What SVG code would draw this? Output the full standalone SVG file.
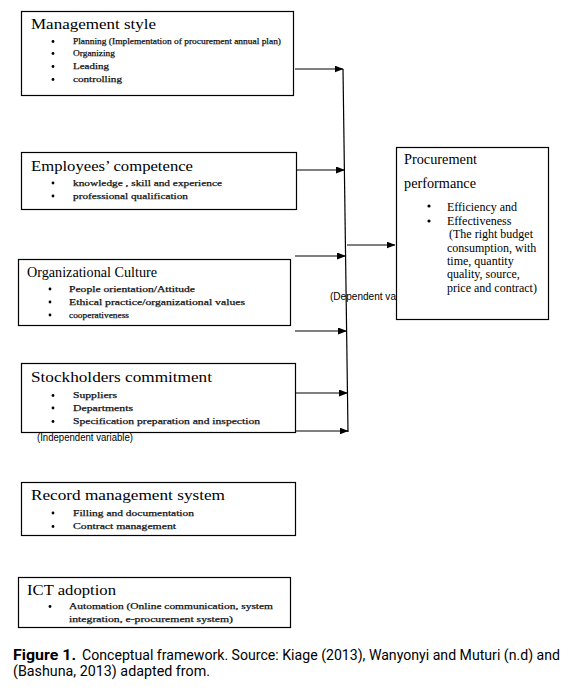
<svg xmlns="http://www.w3.org/2000/svg" width="576" height="694" viewBox="0 0 576 694">
<style>
.box{fill:#fff;stroke:#000;stroke-width:1.2}
.ttl{font-family:"Liberation Serif",serif;font-size:15px;fill:#000}
.itm{font-family:"Liberation Serif",serif;font-size:9px;fill:#111;stroke:#111;stroke-width:0.25}
.pp{font-family:"Liberation Serif",serif;font-size:12px;fill:#000}
.pt{font-family:"Liberation Serif",serif;font-size:14px;fill:#000}
.lbl{font-family:"Liberation Sans",Arial,sans-serif;font-size:10px;fill:#000}
.cap{font-family:"Roboto","Liberation Sans",sans-serif;font-size:14px;fill:#000}
.dot{fill:#000}
.con{stroke:#000;stroke-width:1.2;fill:none}
</style>
<defs>
<marker id="ah" markerWidth="9" markerHeight="7" refX="8.5" refY="3.5" orient="auto" markerUnits="userSpaceOnUse">
<path d="M0,0 L9,3.5 L0,7 Z" fill="#000"/>
</marker>
</defs>
<text class="lbl" x="330" y="300" textLength="66" lengthAdjust="spacingAndGlyphs">(Dependent va</text>
<g id="connectors">
<line class="con" x1="343" y1="69" x2="348" y2="432"/>
<line class="con" x1="295" y1="69" x2="343" y2="69" marker-end="url(#ah)"/>
<line class="con" x1="296" y1="170" x2="344.5" y2="170" marker-end="url(#ah)"/>
<line class="con" x1="295" y1="256" x2="345.5" y2="256" marker-end="url(#ah)"/>
<line class="con" x1="295" y1="331" x2="346.5" y2="331" marker-end="url(#ah)"/>
<line class="con" x1="296" y1="393" x2="347.5" y2="393" marker-end="url(#ah)"/>
<line class="con" x1="296" y1="431" x2="348" y2="431" marker-end="url(#ah)"/>
<line class="con" x1="347" y1="245" x2="395" y2="245" marker-end="url(#ah)"/>
</g>
<g id="management-style">
<rect class="box" x="21.5" y="11.5" width="272" height="84"/>
<text class="ttl" x="31" y="29" textLength="125" lengthAdjust="spacingAndGlyphs">Management style</text>
<circle class="dot" cx="53" cy="41.5" r="1.4"/><text class="itm" x="73" y="44" textLength="208" lengthAdjust="spacingAndGlyphs">Planning (Implementation of procurement annual plan)</text>
<circle class="dot" cx="53" cy="53.5" r="1.4"/><text class="itm" x="73" y="56" textLength="42" lengthAdjust="spacingAndGlyphs">Organizing</text>
<circle class="dot" cx="53" cy="66.5" r="1.4"/><text class="itm" x="73" y="69" textLength="36" lengthAdjust="spacingAndGlyphs">Leading</text>
<circle class="dot" cx="53" cy="79.5" r="1.4"/><text class="itm" x="73" y="82" textLength="49" lengthAdjust="spacingAndGlyphs">controlling</text>
</g>
<g id="employees-competence">
<rect class="box" x="21.5" y="152.5" width="275" height="57"/>
<text class="ttl" x="31" y="171" textLength="162" lengthAdjust="spacingAndGlyphs">Employees’ competence</text>
<circle class="dot" cx="53" cy="183" r="1.4"/><text class="itm" x="73" y="185.5" textLength="149" lengthAdjust="spacingAndGlyphs">knowledge , skill and experience</text>
<circle class="dot" cx="53" cy="196" r="1.4"/><text class="itm" x="73" y="198.5" textLength="115" lengthAdjust="spacingAndGlyphs">professional qualification</text>
</g>
<g id="organizational-culture">
<rect class="box" x="18.5" y="259.5" width="272" height="66"/>
<text class="ttl" x="27" y="277" textLength="130" lengthAdjust="spacingAndGlyphs">Organizational Culture</text>
<circle class="dot" cx="50" cy="289" r="1.4"/><text class="itm" x="69" y="291.5" textLength="126" lengthAdjust="spacingAndGlyphs">People orientation/Attitude</text>
<circle class="dot" cx="50" cy="302" r="1.4"/><text class="itm" x="69" y="304.5" textLength="176" lengthAdjust="spacingAndGlyphs">Ethical practice/organizational values</text>
<circle class="dot" cx="50" cy="315" r="1.4"/><text class="itm" x="69" y="317.5" textLength="60" lengthAdjust="spacingAndGlyphs">cooperativeness</text>
</g>
<g id="stockholders-commitment">
<rect class="box" x="21.5" y="363.5" width="274" height="69"/>
<text class="ttl" x="31" y="382" textLength="181" lengthAdjust="spacingAndGlyphs">Stockholders commitment</text>
<circle class="dot" cx="53" cy="395.5" r="1.4"/><text class="itm" x="73" y="398" textLength="44" lengthAdjust="spacingAndGlyphs">Suppliers</text>
<circle class="dot" cx="53" cy="408" r="1.4"/><text class="itm" x="73" y="410.5" textLength="60" lengthAdjust="spacingAndGlyphs">Departments</text>
<circle class="dot" cx="53" cy="421.5" r="1.4"/><text class="itm" x="73" y="424" textLength="187" lengthAdjust="spacingAndGlyphs">Specification preparation and inspection</text>
</g>
<text class="lbl" x="37" y="441" textLength="96" lengthAdjust="spacingAndGlyphs">(Independent variable)</text>
<g id="record-management-system">
<rect class="box" x="21.5" y="482.5" width="274" height="53"/>
<text class="ttl" x="31" y="500" textLength="194" lengthAdjust="spacingAndGlyphs">Record management system</text>
<circle class="dot" cx="53" cy="513" r="1.4"/><text class="itm" x="73" y="515.5" textLength="121" lengthAdjust="spacingAndGlyphs">Filling and documentation</text>
<circle class="dot" cx="53" cy="526.5" r="1.4"/><text class="itm" x="73" y="529" textLength="103" lengthAdjust="spacingAndGlyphs">Contract management</text>
</g>
<g id="ict-adoption">
<rect class="box" x="18.5" y="577.5" width="272" height="50"/>
<text class="ttl" x="27" y="595" textLength="89" lengthAdjust="spacingAndGlyphs">ICT adoption</text>
<circle class="dot" cx="50" cy="606.5" r="1.4"/><text class="itm" x="69" y="609" textLength="204" lengthAdjust="spacingAndGlyphs">Automation (Online communication, system</text>
<text class="itm" x="69" y="622" textLength="164" lengthAdjust="spacingAndGlyphs">integration, e-procurement system)</text>
</g>
<g id="procurement-performance">
<rect class="box" x="396.5" y="147.5" width="152" height="172"/>
<text class="pt" x="404" y="164" textLength="73" lengthAdjust="spacingAndGlyphs">Procurement</text>
<text class="pt" x="404" y="188" textLength="72" lengthAdjust="spacingAndGlyphs">performance</text>
<circle class="dot" cx="429" cy="206" r="1.6"/><text class="pp" x="447" y="211">Efficiency and</text>
<circle class="dot" cx="429" cy="221" r="1.6"/><text class="pp" x="447" y="225">Effectiveness</text>
<text class="pp" x="449" y="238">(The right budget</text>
<text class="pp" x="447" y="252">consumption, with</text>
<text class="pp" x="447" y="265">time, quantity</text>
<text class="pp" x="447" y="278">quality, source,</text>
<text class="pp" x="447" y="292">price and contract)</text>
</g>
<g id="caption">
<text class="cap" x="13" y="660"><tspan font-weight="bold" textLength="63" lengthAdjust="spacingAndGlyphs">Figure 1.</tspan></text>
<text class="cap" x="82" y="660" textLength="478" lengthAdjust="spacingAndGlyphs">Conceptual framework. Source: Kiage (2013), Wanyonyi and Muturi (n.d) and</text>
<text class="cap" x="13" y="676" textLength="197" lengthAdjust="spacingAndGlyphs">(Bashuna, 2013) adapted from.</text>
</g>
</svg>
